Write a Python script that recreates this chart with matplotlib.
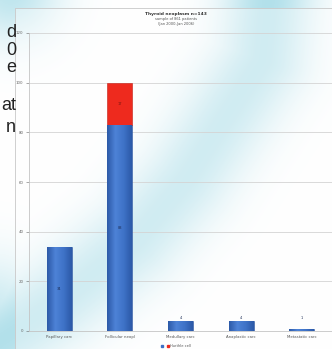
import numpy as np
import matplotlib.pyplot as plt
from matplotlib.patches import Rectangle
from matplotlib.colors import LinearSegmentedColormap

categories = ["Papillary carc", "Follicular neopl", "Medullary carc",
              "Anaplastic carc", "Metastatic carc"]
main_counts = [34, 83, 4, 4, 1]
hurthle_counts = [0, 17, 0, 0, 0]
yticks = [0, 20, 40, 60, 80, 100, 120]

title = "Thyroid neoplasm n=143"
subtitle = "sample of 861 patients\n(Jan 2000-Jan 2006)"
slide_text = ["d", "0", "e", "at", "n"]

W, H = 332, 349
fig = plt.figure(figsize=(W / 100, H / 100), dpi=100)

# soft cyan swoosh of the slide background
yy, xx = np.mgrid[0:H, 0:W]
path = np.array([(272, -30), (268, 0), (262, 60), (220, 125), (185, 180),
                 (135, 240), (60, 300), (0, 340), (-40, 370)], dtype=float)
d = np.full(xx.shape, 1e9)
for (x0, y0), (x1, y1) in zip(path[:-1], path[1:]):
    dx, dy = x1 - x0, y1 - y0
    t = np.clip(((xx - x0) * dx + (yy - y0) * dy) / (dx * dx + dy * dy), 0, 1)
    d = np.minimum(d, np.hypot(xx - (x0 + t * dx), yy - (y0 + t * dy)))
glow = np.exp(-(d / 45) ** 2)
glow = np.maximum(glow, 0.85 * np.exp(-((xx - 10) ** 2 + (yy + 10) ** 2) / 50 ** 2))
glow = np.maximum(glow, 0.7 * np.exp(-((xx + 10) ** 2 + (yy - 320) ** 2) / 60 ** 2))
cyan = np.array([0.70, 0.88, 0.92])
img = 1 - glow[..., None] * (1 - cyan)

bg = fig.add_axes([0, 0, 1, 1])
bg.imshow(img, extent=(0, W, H, 0), aspect="auto")
bg.set_xlim(0, W)
bg.set_ylim(H, 0)
bg.axis("off")

# cut-off slide text on the left
for s, base in zip(slide_text, [37, 55, 72, 110, 132]):
    bg.text(16, base, s, ha="right", va="baseline", fontsize=13,
            family="Liberation Sans", color="#222222")

# chart panel
bg.add_patch(Rectangle((15, 8), W, H, facecolor="white", alpha=0.4, lw=0))
bg.add_patch(Rectangle((15, 8), W, H, facecolor="none", edgecolor="#c8c8c8", lw=0.6))

ax = fig.add_axes([29 / W, 1 - 331 / H, 1 - 29 / W, 298 / H])
ax.patch.set_alpha(0)
x = np.arange(len(categories))
blue, red = "#3d70c6", "#ee2a1e"
bars = ax.bar(x, main_counts, width=0.41, color=blue, edgecolor="#2b5299", lw=0.4, zorder=2)
hx = [i for i, v in enumerate(hurthle_counts) if v > 0]
ax.bar(hx, [hurthle_counts[i] for i in hx], bottom=[main_counts[i] for i in hx],
       width=0.41, color=red, edgecolor="#c21d14", lw=0.4, zorder=2)

# horizontal shading on the blue bars
shade = LinearSegmentedColormap.from_list("shade", ["#2c5aa8", "#4d82d6", "#3f73c8", "#2c5aa8"])
grad = np.linspace(0, 1, 64)[None, :]
for b in bars:
    im = ax.imshow(grad, cmap=shade, aspect="auto", zorder=2.1,
                   extent=(b.get_x(), b.get_x() + b.get_width(), 0, b.get_height()))
    im.set_clip_path(b)

for i, v in enumerate(main_counts):
    ax.text(i, max(v / 2, 5.4), str(v), ha="center", va="center",
            fontsize=2.6, color="#1c2d55", zorder=3)
for i in hx:
    ax.text(i, main_counts[i] + hurthle_counts[i] / 2, str(hurthle_counts[i]),
            ha="center", va="center", fontsize=2.6, color="#7a1610", zorder=3)

ax.set_xlim(-0.5, len(categories) - 0.5)
ax.set_ylim(0, 120)
ax.set_yticks(yticks)
ax.set_xticks(x)
ax.set_xticklabels(categories)
ax.yaxis.grid(True, color="#d4d4d4", lw=0.6)
ax.set_axisbelow(True)
for s in ["top", "right"]:
    ax.spines[s].set_visible(False)
for s in ["left", "bottom"]:
    ax.spines[s].set_color("#c4c4c4")
    ax.spines[s].set_linewidth(0.6)
ax.tick_params(axis="y", labelsize=2.8, colors="#666666", length=2, width=0.4, pad=2)
ax.tick_params(axis="x", labelsize=2.8, colors="#555555", length=0, pad=3)

fig.text(176 / W, 1 - 14 / H, title, ha="center", va="center",
         fontsize=3.2, fontweight="bold", color="#333333")
fig.text(176 / W, 1 - 21.5 / H, subtitle, ha="center", va="center",
         fontsize=2.6, color="#555555", linespacing=1.3)

handles = [Rectangle((0, 0), 1, 1, color=blue), Rectangle((0, 0), 1, 1, color=red)]
fig.legend(handles, ["", "Hurthle cell"], loc="center", bbox_to_anchor=(176 / W, 1 - 346 / H),
           ncol=2, fontsize=2.6, frameon=False, handlelength=0.6, handleheight=0.6,
           columnspacing=0.6, handletextpad=0.3, labelcolor="#555555")

fig.savefig("out.png", dpi=100)
